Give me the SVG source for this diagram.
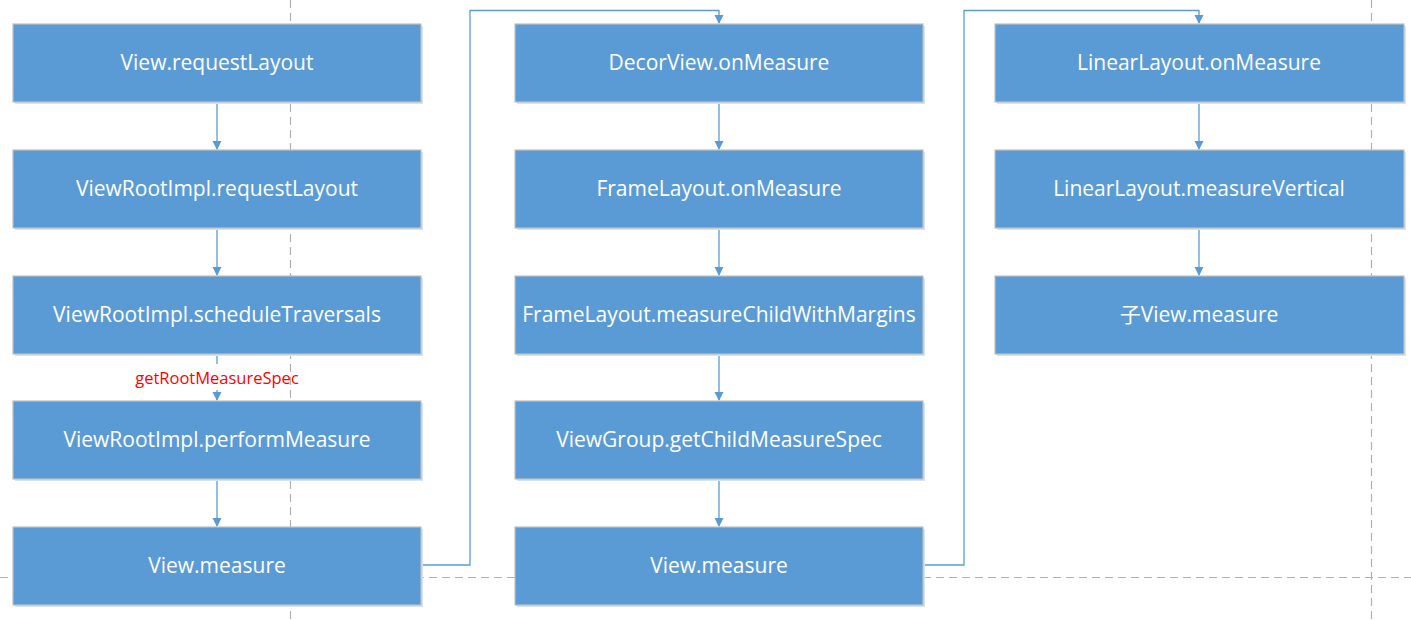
<svg xmlns="http://www.w3.org/2000/svg" width="1411" height="620" viewBox="0 0 1411 620">
<style>
.box{fill:#5b9bd5;stroke:#bfbfbf;stroke-width:1.2}
.sh{fill:#d6e3f0}
.t{fill:#ffffff;font-family:"Open Sans","Noto Sans",sans-serif;font-size:21px;text-anchor:middle;dominant-baseline:central}
.c{fill:none;stroke:#5b9bd5;stroke-width:1.3}
.g{fill:none;stroke:#b0b0b0;stroke-width:1.2;stroke-dasharray:8 5}
.lbl{fill:#ff0000;font-family:"Open Sans","Noto Sans",sans-serif;font-size:16.5px;text-anchor:middle;dominant-baseline:central}
</style>
<defs>
<marker id="ah" markerWidth="10" markerHeight="10" refX="8" refY="4.5" orient="auto" markerUnits="userSpaceOnUse">
<path d="M0,0 L9,4.5 L0,9 Z" fill="#5b9bd5"/>
</marker>
</defs>
<rect width="1411" height="620" fill="#ffffff"/>
<g id="guides">
<line class="g" x1="290.5" y1="0" x2="290.5" y2="620"/>
<line class="g" x1="1371.5" y1="0" x2="1371.5" y2="620"/>
<line class="g" x1="0" y1="577.5" x2="1411" y2="577.5"/>
</g>
<g id="connectors">
<line class="c" x1="217" y1="102" x2="217" y2="149" marker-end="url(#ah)"/>
<line class="c" x1="217" y1="228" x2="217" y2="275" marker-end="url(#ah)"/>
<line class="c" x1="217" y1="354" x2="217" y2="364"/>
<line class="c" x1="217" y1="390" x2="217" y2="400" marker-end="url(#ah)"/>
<line class="c" x1="217" y1="479" x2="217" y2="526" marker-end="url(#ah)"/>
<line class="c" x1="719" y1="102" x2="719" y2="149" marker-end="url(#ah)"/>
<line class="c" x1="719" y1="228" x2="719" y2="275" marker-end="url(#ah)"/>
<line class="c" x1="719" y1="354" x2="719" y2="400" marker-end="url(#ah)"/>
<line class="c" x1="719" y1="479" x2="719" y2="526" marker-end="url(#ah)"/>
<line class="c" x1="1199" y1="102" x2="1199" y2="149" marker-end="url(#ah)"/>
<line class="c" x1="1199" y1="228" x2="1199" y2="275" marker-end="url(#ah)"/>
<polyline class="c" points="421,565 470,565 470,10.5 719,10.5 719,23" marker-end="url(#ah)"/>
<polyline class="c" points="923,565 964,565 964,10.5 1199,10.5 1199,23" marker-end="url(#ah)"/>
<text class="lbl" x="217" y="377">getRootMeasureSpec</text>
</g>
<g id="n1"><rect class="sh" x="15" y="26" width="408" height="78"/><rect class="box" x="13" y="24" width="408" height="78"/><text class="t" x="217" y="62">View.requestLayout</text></g>
<g id="n2"><rect class="sh" x="15" y="152" width="408" height="78"/><rect class="box" x="13" y="150" width="408" height="78"/><text class="t" x="217" y="188">ViewRootImpl.requestLayout</text></g>
<g id="n3"><rect class="sh" x="15" y="278" width="408" height="78"/><rect class="box" x="13" y="276" width="408" height="78"/><text class="t" x="217" y="314">ViewRootImpl.scheduleTraversals</text></g>
<g id="n4"><rect class="sh" x="15" y="403" width="408" height="78"/><rect class="box" x="13" y="401" width="408" height="78"/><text class="t" x="217" y="439">ViewRootImpl.performMeasure</text></g>
<g id="n5"><rect class="sh" x="15" y="529" width="408" height="78"/><rect class="box" x="13" y="527" width="408" height="78"/><text class="t" x="217" y="565">View.measure</text></g>
<g id="n6"><rect class="sh" x="517" y="26" width="408" height="78"/><rect class="box" x="515" y="24" width="408" height="78"/><text class="t" x="719" y="62">DecorView.onMeasure</text></g>
<g id="n7"><rect class="sh" x="517" y="152" width="408" height="78"/><rect class="box" x="515" y="150" width="408" height="78"/><text class="t" x="719" y="188">FrameLayout.onMeasure</text></g>
<g id="n8"><rect class="sh" x="517" y="278" width="408" height="78"/><rect class="box" x="515" y="276" width="408" height="78"/><text class="t" x="719" y="314">FrameLayout.measureChildWithMargins</text></g>
<g id="n9"><rect class="sh" x="517" y="403" width="408" height="78"/><rect class="box" x="515" y="401" width="408" height="78"/><text class="t" x="719" y="439">ViewGroup.getChildMeasureSpec</text></g>
<g id="n10"><rect class="sh" x="517" y="529" width="408" height="78"/><rect class="box" x="515" y="527" width="408" height="78"/><text class="t" x="719" y="565">View.measure</text></g>
<g id="n11"><rect class="sh" x="997" y="26" width="409" height="78"/><rect class="box" x="995" y="24" width="409" height="78"/><text class="t" x="1199" y="62">LinearLayout.onMeasure</text></g>
<g id="n12"><rect class="sh" x="997" y="152" width="409" height="78"/><rect class="box" x="995" y="150" width="409" height="78"/><text class="t" x="1199" y="188">LinearLayout.measureVertical</text></g>
<g id="n13"><rect class="sh" x="997" y="278" width="409" height="78"/><rect class="box" x="995" y="276" width="409" height="78"/><text class="t" x="1199" y="314" style="font-family:'Open Sans','Noto Sans','Noto Sans CJK SC',sans-serif">子View.measure</text></g>
</svg>
